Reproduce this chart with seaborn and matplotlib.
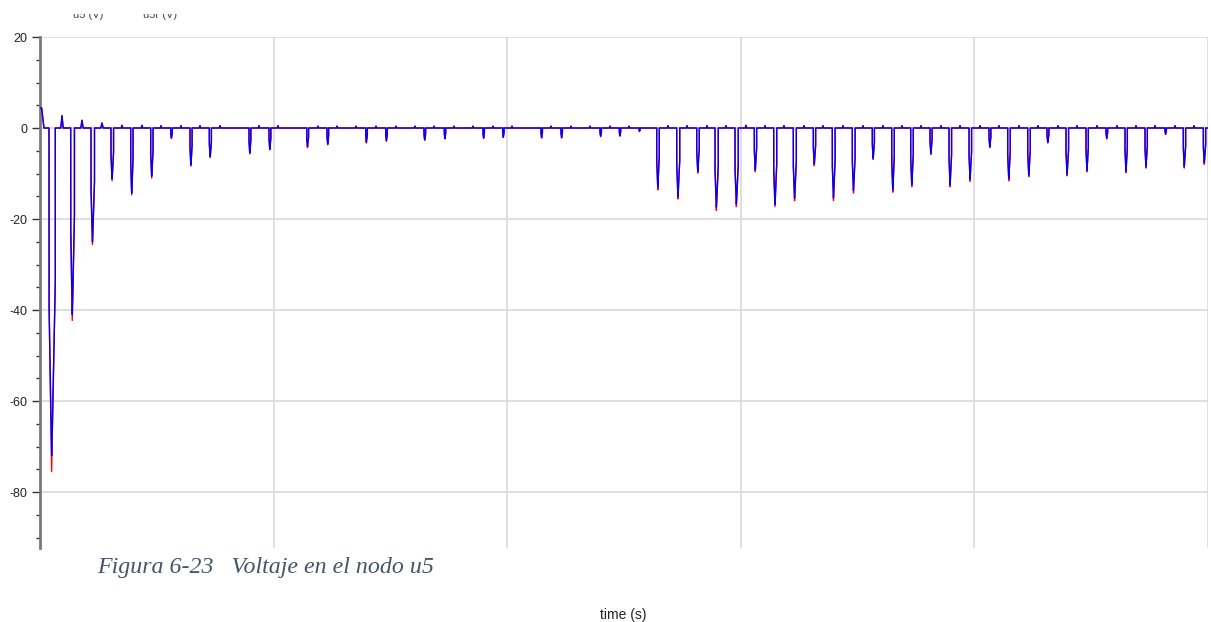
import numpy as np
import pandas as pd
import matplotlib
matplotlib.use("Agg")
import matplotlib.pyplot as plt
import seaborn as sns
from matplotlib.ticker import MultipleLocator
from matplotlib.patches import Rectangle

# --- Data (time in s, voltage in V) ---
# initial transient at t = 0
start_t = [0.0, 0.0007, 0.0017]
start_v = [4.4, 4.4, 0.0]

# negative spikes: start time, depth (blue trace), depth (red trace), duration
spike_t = [0.00385, 0.01314, 0.02183, 0.03039, 0.03883, 0.04739, 0.05595, 0.06421,
           0.07247, 0.08947, 0.09803, 0.11417, 0.12286, 0.13943, 0.14799, 0.16438,
           0.17308, 0.18964, 0.19807, 0.21447, 0.22303, 0.23973, 0.24799, 0.25642,
           0.26400, 0.27256, 0.28112, 0.28896, 0.29752, 0.30578, 0.31408, 0.32247,
           0.33104, 0.33917, 0.34773, 0.35629, 0.36460, 0.37273, 0.38099, 0.38913,
           0.39769, 0.40625, 0.41425, 0.42282, 0.43108, 0.43921, 0.44777, 0.45634,
           0.46447, 0.47303, 0.48159, 0.48943, 0.49800]
spike_blue = [-72.0, -41.0, -25.0, -11.2, -14.3, -10.6, -2.2, -8.1,
              -6.3, -5.5, -4.6, -4.1, -3.5, -3.1, -2.8, -2.6,
              -2.3, -2.2, -2.0, -2.1, -2.1, -1.8, -1.7, -0.7,
              -13.0, -15.0, -9.5, -17.4, -16.7, -9.2, -16.8, -15.4,
              -7.9, -15.3, -13.7, -6.6, -13.5, -12.4, -5.5, -12.4,
              -11.2, -4.1, -11.1, -10.3, -3.1, -10.1, -9.2, -2.2,
              -9.4, -8.4, -1.3, -8.4, -7.6]
spike_red = [-75.5, -42.3, -25.6, -11.6, -14.7, -11.0, -2.3, -8.4,
             -6.5, -5.7, -4.8, -4.3, -3.7, -3.3, -2.9, -2.7,
             -2.4, -2.3, -2.1, -2.2, -2.2, -1.9, -1.8, -0.8,
             -13.6, -15.6, -9.9, -18.1, -17.3, -9.6, -17.3, -16.0,
             -8.3, -15.9, -14.3, -6.9, -14.1, -12.9, -5.8, -12.9,
             -11.7, -4.3, -11.6, -10.7, -3.3, -10.5, -9.6, -2.4,
             -9.8, -8.8, -1.4, -8.8, -8.0]
spike_dur = [0.0027, 0.0016, 0.0015, 0.0011, 0.0010, 0.0010, 0.0007, 0.0009,
             0.0009, 0.0008, 0.0008, 0.0008, 0.0007, 0.0007, 0.0007, 0.0007,
             0.0006, 0.0006, 0.0006, 0.0006, 0.0006, 0.0006, 0.0006, 0.0005,
             0.0011, 0.0013, 0.0011, 0.0014, 0.0014, 0.0010, 0.0013, 0.0013,
             0.0010, 0.0012, 0.0012, 0.0009, 0.0011, 0.0011, 0.0009, 0.0011,
             0.0011, 0.0008, 0.0011, 0.0011, 0.0008, 0.0011, 0.0010, 0.0007,
             0.0010, 0.0010, 0.0006, 0.0010, 0.0010]

# small positive blips between spikes: time, height
bump_t = [0.00942, 0.01798, 0.02654, 0.03510, 0.04366, 0.05180, 0.06036, 0.06849,
          0.07705, 0.09375, 0.10188, 0.11901, 0.12714, 0.13527, 0.14384, 0.15240,
          0.16053, 0.16866, 0.17723, 0.18536, 0.19392, 0.20205, 0.21875, 0.22731,
          0.23545, 0.24401, 0.25214, 0.26884, 0.27697, 0.28553, 0.29366, 0.30223,
          0.31036, 0.31849, 0.32705, 0.33519, 0.34375, 0.35231, 0.36087, 0.36900,
          0.37714, 0.38570, 0.39384, 0.40240, 0.41053, 0.41909, 0.42723, 0.43579,
          0.44392, 0.45248, 0.46104, 0.46918, 0.47731, 0.48587, 0.49401]
bump_v = [2.7, 1.7, 1.1, 0.6, 0.6, 0.5, 0.5, 0.5,
          0.5, 0.5, 0.5, 0.4, 0.4, 0.4, 0.4, 0.4,
          0.4, 0.4, 0.4, 0.4, 0.4, 0.4, 0.4, 0.4,
          0.4, 0.4, 0.4, 0.5, 0.5, 0.5, 0.5, 0.6,
          0.5, 0.5, 0.5, 0.5, 0.5, 0.5, 0.5, 0.5,
          0.5, 0.5, 0.5, 0.5, 0.5, 0.5, 0.5, 0.5,
          0.5, 0.5, 0.5, 0.5, 0.5, 0.5, 0.5, 0.5]

t_end = 0.5
y_ticks = [20, 0, -20, -40, -60, -80]
x_grid = [0.0, 0.1, 0.2, 0.3, 0.4, 0.5]


def build_trace(tips):
    # piecewise-linear waveform: baseline 0 with spikes and blips inserted;
    # both traces share the blue flanks, only the tip depth differs
    events = []
    for t0, d, tip, w in zip(spike_t, spike_blue, tips, spike_dur):
        pts = [(t0, 0.0), (t0 + 0.02 * w, 0.55 * d), (t0 + 0.42 * w, tip),
               (t0 + 0.55 * w, 0.9 * d), (t0 + w, 0.47 * d), (t0 + w, 0.0)]
        events.append((t0, pts))
    for tb, h in zip(bump_t, bump_v):
        hw = 0.0005 if h > 1 else 0.0003
        events.append((tb - hw, [(tb - hw, 0.0), (tb, h), (tb + hw, 0.0)]))
    events.sort(key=lambda e: e[0])
    t = list(start_t)
    v = list(start_v)
    for _, pts in events:
        for a, b in pts:
            t.append(a)
            v.append(b)
    t.append(t_end)
    v.append(0.0)
    return pd.DataFrame({"time": t, "voltage": v})


blue_df = build_trace(spike_blue)
red_df = build_trace(spike_red)

# --- Plot ---
sns.set_style("white")
plt.rcParams['font.family'] = ['Liberation Sans', 'DejaVu Sans']
plt.rcParams['axes.unicode_minus'] = False

fig = plt.figure(figsize=(12.11, 6.22), dpi=100)
ax = fig.add_axes([40 / 1211, 1 - 548 / 622, 1168 / 1211, 511 / 622])

sns.lineplot(data=red_df, x="time", y="voltage", sort=False, estimator=None,
             color="#ff0000", linewidth=1.0, ax=ax, zorder=3)
sns.lineplot(data=blue_df, x="time", y="voltage", sort=False, estimator=None,
             color="#0000ff", linewidth=1.0, ax=ax, zorder=4)

ax.set_xlim(0, t_end)
ax.set_ylim(-92.3, 20)
ax.set_xticks(x_grid)
ax.set_yticks(y_ticks)
ax.yaxis.set_minor_locator(MultipleLocator(5))
ax.grid(True, which="major", color="#dcdcdc", linewidth=1.3)
ax.set_axisbelow(True)

for side in ["top", "right", "bottom"]:
    ax.spines[side].set_visible(False)
ax.spines["left"].set_color("#7a7a7a")
ax.spines["left"].set_linewidth(2)

ax.tick_params(axis="x", length=0, labelbottom=False, bottom=False)
ax.tick_params(axis="y", which="both", left=True)
ax.tick_params(axis="y", which="major", direction="out", length=6, width=1,
               color="#333333", labelsize=9, labelcolor="#222222", pad=3)
ax.tick_params(axis="y", which="minor", direction="out", length=3, width=1,
               color="#333333")
ax.set_xlabel("")
ax.set_ylabel("")

# legend entries, cut off at the top like in the source screenshot
fig.text(73 / 1211, 1 - 17.5 / 622, "u5 (V)", fontsize=8, color="#444444", va="baseline")
fig.text(143 / 1211, 1 - 17.5 / 622, "u5r (V)", fontsize=8, color="#444444", va="baseline")
fig.patches.append(Rectangle((0, 1 - 13.5 / 622), 1, 13.5 / 622, transform=fig.transFigure,
                             facecolor="white", edgecolor="none", zorder=10))

fig.text(97 / 1211, 1 - 573 / 622, "Figura 6-23   Voltaje en el nodo u5",
         family=["Liberation Serif", "DejaVu Serif"], style="italic", fontsize=17.2,
         color="#44546A", va="baseline")
fig.text(623.5 / 1211, 1 - 619 / 622, "time (s)", fontsize=10, color="#222222",
         ha="center", va="baseline")

fig.savefig("out.png", dpi=100)
plt.close(fig)
